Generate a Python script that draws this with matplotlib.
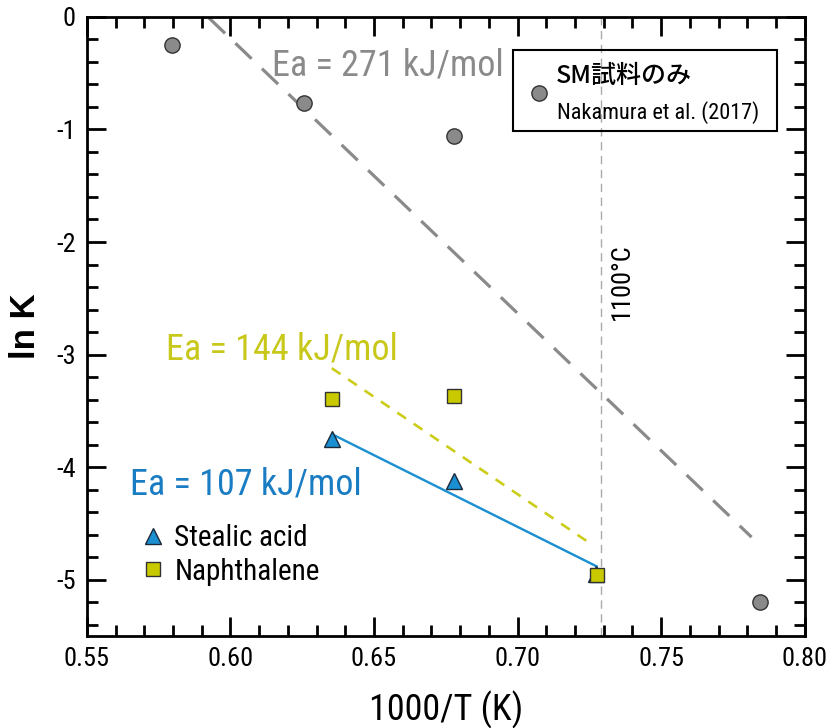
import matplotlib
matplotlib.use('Agg')
import matplotlib.pyplot as plt
from matplotlib import font_manager
from matplotlib.patches import Rectangle
from matplotlib.ticker import MultipleLocator

# pick a narrow sans if there is one
def pick(names):
    for n in names:
        try:
            font_manager.findfont(n, fallback_to_default=False)
            return n
        except Exception:
            pass
    return 'DejaVu Sans'

NARROW = pick(['Liberation Sans Narrow', 'Roboto Condensed', 'Open Sans Condensed', 'Liberation Sans'])
JP = 'Noto Sans CJK JP'

# data
sm_x = [0.5796, 0.6256, 0.678, 0.7843]
sm_y = [-0.25, -0.77, -1.06, -5.2]
sm_fit_x = [0.5925, 0.7815]
sm_fit_y = [-0.01, -4.62]

st_x = [0.6355, 0.678, 0.7275]
st_y = [-3.75, -4.12, -4.95]
st_fit_x = [0.6357, 0.7276]
st_fit_y = [-3.71, -4.88]

na_x = [0.6355, 0.678, 0.7276]
na_y = [-3.39, -3.37, -4.96]
na_fit_x = [0.6353, 0.7244]
na_fit_y = [-3.12, -4.66]

t1100 = 0.7289

gray = '#8a8a8a'
blue = '#1a8fd2'
yellow = '#c9c900'

plt.rcParams['font.family'] = [NARROW, JP, 'DejaVu Sans']

fig = plt.figure(figsize=(8.27, 7.28), dpi=100)
ax = fig.add_axes([0.105, 0.126, 0.868, 0.851])

ax.axvline(t1100, color='#aaaaaa', lw=1.0, dashes=(6, 4), zorder=1)
ax.plot(sm_fit_x, sm_fit_y, color=gray, lw=2.3, dashes=(7, 4.5), zorder=2)
ax.plot(na_fit_x, na_fit_y, color='#cccc1a', lw=1.9, dashes=(4, 3.5), zorder=2)
ax.plot(st_fit_x, st_fit_y, color=blue, lw=1.7, zorder=2)

ax.plot(sm_x, sm_y, 'o', ms=11, mfc=gray, mec='#333333', mew=1.0, zorder=4)
ax.plot(st_x, st_y, '^', ms=12, mfc=blue, mec='#1a2a3a', mew=1.0, zorder=4, label='Stealic acid')
ax.plot(na_x, na_y, 's', ms=10.5, mfc=yellow, mec='#333333', mew=1.0, zorder=5, label='Naphthalene')

ax.set_xlim(0.55, 0.80)
ax.set_ylim(-5.5, 0)
ax.xaxis.set_major_locator(MultipleLocator(0.05))
ax.xaxis.set_minor_locator(MultipleLocator(0.01))
ax.yaxis.set_major_locator(MultipleLocator(1))
ax.yaxis.set_minor_locator(MultipleLocator(0.2))
ax.xaxis.set_major_formatter(matplotlib.ticker.FormatStrFormatter('%.2f'))
ax.yaxis.set_major_formatter(matplotlib.ticker.FuncFormatter(lambda v, p: '%d' % round(v)))
ax.tick_params(which='both', direction='in', top=True, right=True, width=2, colors='black')
ax.tick_params(which='major', length=14, labelsize=19, pad=8)
ax.tick_params(which='minor', length=8)
for s in ax.spines.values():
    s.set_linewidth(2)

ax.set_xlabel('1000/T (K)', fontsize=26, labelpad=14)
ax.set_ylabel('ln K', fontsize=25, fontweight='bold', family='Liberation Sans', labelpad=10)

ax.text(0.6144, -0.43, 'Ea = 271 kJ/mol', color=gray, fontsize=26, va='center', ha='left')
ax.text(0.5775, -2.95, 'Ea = 144 kJ/mol', color='#c8c81a', fontsize=26, va='center', ha='left')
ax.text(0.5652, -4.15, 'Ea = 107 kJ/mol', color='#1a7cc2', fontsize=26, va='center', ha='left')
ax.text(0.7365, -2.35, '1100\u00b0C', fontsize=19, rotation=90, va='center', ha='center')

# legend box for the SM data
ax.add_patch(Rectangle((0.593, 0.816), 0.369, 0.131, transform=ax.transAxes,
                       fill=False, ec='black', lw=1.5, zorder=6))
ax.plot([0.6305], [0.877], 'o', ms=11, mfc=gray, mec='#333333', mew=1.0,
        transform=ax.transAxes, zorder=7)
ax.text(0.653, 0.905, 'SM試料のみ', family=[JP, 'DejaVu Sans'], fontsize=18,
        fontweight='medium', transform=ax.transAxes, va='center', ha='left')
ax.text(0.655, 0.846, 'Nakamura et al. (2017)', fontsize=16,
        transform=ax.transAxes, va='center', ha='left')

ax.legend(loc='lower left', bbox_to_anchor=(0.055, 0.063), frameon=False, fontsize=21,
          handletextpad=0.25, labelspacing=0.2, handlelength=1.0, borderaxespad=0)

fig.savefig('out.png', dpi=100)
